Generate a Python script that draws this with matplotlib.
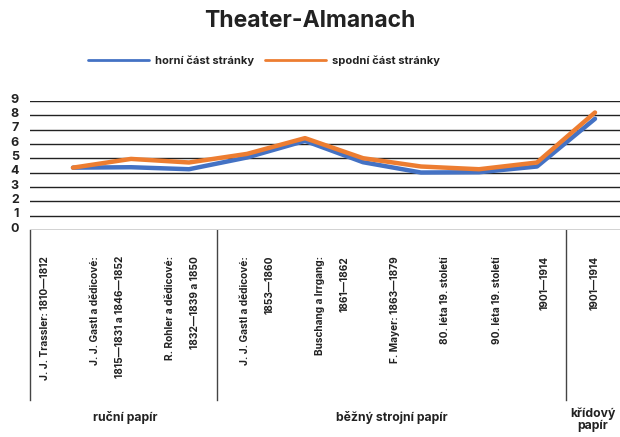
import matplotlib.pyplot as plt
from matplotlib.transforms import ScaledTranslation

plt.rcParams['font.family'] = ['Inter', 'DejaVu Sans']
plt.rcParams['font.weight'] = 'bold'

# data
title = 'Theater-Almanach'
series_names = ['horní část stránky', 'spodní část stránky']
horni = [4.35, 4.38, 4.24, 5.06, 6.22, 4.73, 4.01, 4.03, 4.43, 7.76]
spodni = [4.35, 4.96, 4.71, 5.31, 6.41, 5.01, 4.43, 4.24, 4.71, 8.2]
y_ticks = list(range(10))
cat_labels = [
    ['J. J. Trassler: 1810—1812'],
    ['J. J. Gastl a dědicové:', '1815—1831 a 1846—1852'],
    ['R. Rohler a dědicové:', '1832—1839 a 1850'],
    ['J. J. Gastl a dědicové:', '1853—1860'],
    ['Buschang a Irrgang:', '1861—1862'],
    ['F. Mayer: 1863—1879'],
    ['80. léta 19. století'],
    ['90. léta 19. století'],
    ['1901—1914'],
    ['1901—1914'],
]
groups = ['ruční papír', 'běžný strojní papír', 'křídový\npapír']

# layout (pixels)
W, H = 620, 437
label_x = [45, 95, 170, 245, 320, 395, 445, 497, 545, 595]
group_x = [125, 392, 593]
group_y = [418, 418, 420]
sep_x = [29.5, 217, 566]

fig = plt.figure(figsize=(W / 100, H / 100), dpi=100)
ax = fig.add_axes([30 / W, 1 - 230 / H, 1 - 30 / W, 129 / H])

x = list(range(len(horni)))
ax.plot(x, horni, color='#4472C4', lw=3.2, solid_capstyle='round', label=series_names[0], zorder=3)
ax.plot(x, spodni, color='#ED7D31', lw=3.2, solid_capstyle='round', label=series_names[1], zorder=4)

ax.set_xlim(-43 / 58, -43 / 58 + 590 / 58)
ax.set_ylim(0, 9)
ax.set_yticks(y_ticks)
ax.set_xticks([])
ax.grid(axis='y', color='#222222', lw=1)
for s in ax.spines.values():
    s.set_visible(False)
ax.tick_params(axis='y', length=0, pad=8, labelsize=9)
for lab in ax.get_yticklabels():
    lab.set_fontweight('bold')
    lab.set_color('#222222')
    lab.set_transform(lab.get_transform() + ScaledTranslation(0, 2 / 72, fig.dpi_scale_trans))

fig.text(0.5, 1 - 21 / H, title, ha='center', va='center', fontsize=16.5, fontweight='bold', color='#222222')
leg = fig.legend(loc='center', bbox_to_anchor=(264 / W, 1 - 61 / H), ncol=2, frameon=False,
                 prop={'size': 8, 'weight': 'bold'}, handlelength=5.5, handletextpad=0.55,
                 columnspacing=0.9, labelcolor='#222222')
for h in leg.get_lines():
    h.set_linewidth(2)

# category table below the plot
tab = fig.add_axes([0, 0, 1, 1], zorder=-1)
tab.set_xlim(0, W)
tab.set_ylim(H, 0)
tab.axis('off')
for sx in sep_x:
    tab.plot([sx, sx], [230, 400], color='#444444', lw=1)
for lx, lines in zip(label_x, cat_labels):
    for j, line in enumerate(lines):
        tab.text(lx + 25 * j, 256, line, rotation=90, ha='center', va='top',
                 fontsize=7.3, fontweight='bold', color='#222222')
for gx, gy, g in zip(group_x, group_y, groups):
    tab.text(gx, gy, g, ha='center', va='center', fontsize=8.8, fontweight='bold',
             color='#222222', linespacing=0.95)

fig.savefig('out.png', dpi=100)
